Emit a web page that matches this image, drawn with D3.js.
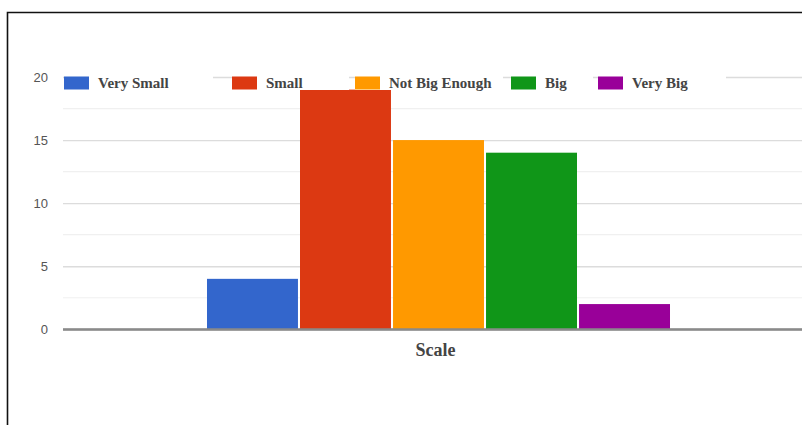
<!DOCTYPE html>
<html>
<head>
<meta charset="utf-8">
<script src="https://cdn.jsdelivr.net/npm/d3@7/dist/d3.min.js"></script>
<style>
  html, body { margin: 0; padding: 0; background: #fff; }
  svg { display: block; }
</style>
</head>
<body>
<script>
// Survey responses: one category, five size ratings
const categories = ["Scale"];
const seriesNames = ["Very Small", "Small", "Not Big Enough", "Big", "Very Big"];
const seriesValues = [4, 19, 15, 14, 2];
const seriesColors = ["#3366cc", "#dc3912", "#ff9900", "#109618", "#990099"];
const yTicks = [0, 5, 10, 15, 20];
const yMinorTicks = [2.5, 7.5, 12.5, 17.5];

const W = 802, H = 425;
const plot = { left: 63, right: 814, top: 77, bottom: 329.3 };

const svg = d3.select("body").append("svg")
  .attr("width", W).attr("height", H);

// frame lines (top and left)
svg.append("path")
  .attr("d", `M7.5,425 L7.5,12.5 L802,12.5`)
  .attr("fill", "none").attr("stroke", "#111").attr("stroke-width", 1.6);

const y = d3.scaleLinear().domain([0, 20]).range([plot.bottom, plot.top]);

const x0 = d3.scaleBand().domain(categories)
  .range([plot.left, plot.right]).paddingInner(0).paddingOuter(0.311);
const x1 = d3.scaleBand().domain(seriesNames)
  .range([0, x0.bandwidth()]).paddingInner(0.022).paddingOuter(0);

// minor gridlines
svg.append("g").selectAll("line").data(yMinorTicks).join("line")
  .attr("x1", plot.left).attr("x2", W)
  .attr("y1", d => y(d)).attr("y2", d => y(d))
  .attr("stroke", "#f0f0f0").attr("stroke-width", 1.2);

// major gridlines and labels via axis
const yAxis = d3.axisLeft(y).tickValues(yTicks).tickSize(-(W - plot.left)).tickPadding(15)
  .tickFormat(d3.format("d"));
const gy = svg.append("g").attr("transform", `translate(${plot.left},0)`).call(yAxis);
gy.select(".domain").remove();
gy.selectAll(".tick line")
  .attr("stroke", d => d === 0 ? "#8a8a8a" : "#dcdcdc")
  .attr("stroke-width", d => d === 0 ? 2 : 1.4);
gy.selectAll(".tick text")
  .attr("fill", "#555")
  .style("font-family", "'Liberation Sans', Arial, sans-serif")
  .style("font-size", "13px");

// bars
const groups = svg.append("g").selectAll("g").data(categories).join("g")
  .attr("transform", d => `translate(${x0(d)},0)`);
groups.selectAll("rect")
  .data(() => seriesNames.map((s, i) => ({ s, v: seriesValues[i], c: seriesColors[i] })))
  .join("rect")
  .attr("x", d => x1(d.s))
  .attr("width", x1.bandwidth())
  .attr("y", d => y(d.v))
  .attr("height", d => y(0) - y(d.v))
  .attr("fill", d => d.c);

// redraw baseline over bars
svg.append("line")
  .attr("x1", plot.left).attr("x2", W)
  .attr("y1", y(0)).attr("y2", y(0))
  .attr("stroke", "#8a8a8a").attr("stroke-width", 2);

// category label
svg.append("g").selectAll("text").data(categories).join("text")
  .attr("x", d => x0(d) + x0.bandwidth() / 2 - 3)
  .attr("y", 356)
  .attr("text-anchor", "middle")
  .attr("fill", "#444")
  .style("font-family", "'Liberation Serif', 'Times New Roman', serif")
  .style("font-weight", "bold")
  .style("font-size", "18px")
  .text(d => d);

// legend
const legendX = [64, 232, 355, 511, 598];
const legendBgEnd = [213, 349, 503, 593, 726];
const lg = svg.append("g").selectAll("g").data(seriesNames).join("g")
  .attr("transform", (d, i) => `translate(${legendX[i]},0)`);
lg.append("rect")
  .attr("x", 0).attr("y", 70)
  .attr("width", (d, i) => legendBgEnd[i] - legendX[i]).attr("height", 20)
  .attr("fill", "#fff");
lg.append("rect")
  .attr("x", 0).attr("y", 76.5)
  .attr("width", 25).attr("height", 13)
  .attr("fill", (d, i) => seriesColors[i]);
lg.append("text")
  .attr("x", 34).attr("y", 88)
  .attr("fill", "#444")
  .style("font-family", "'Liberation Serif', 'Times New Roman', serif")
  .style("font-weight", "bold")
  .style("font-size", "15px")
  .text(d => d);
</script>
</body>
</html>
